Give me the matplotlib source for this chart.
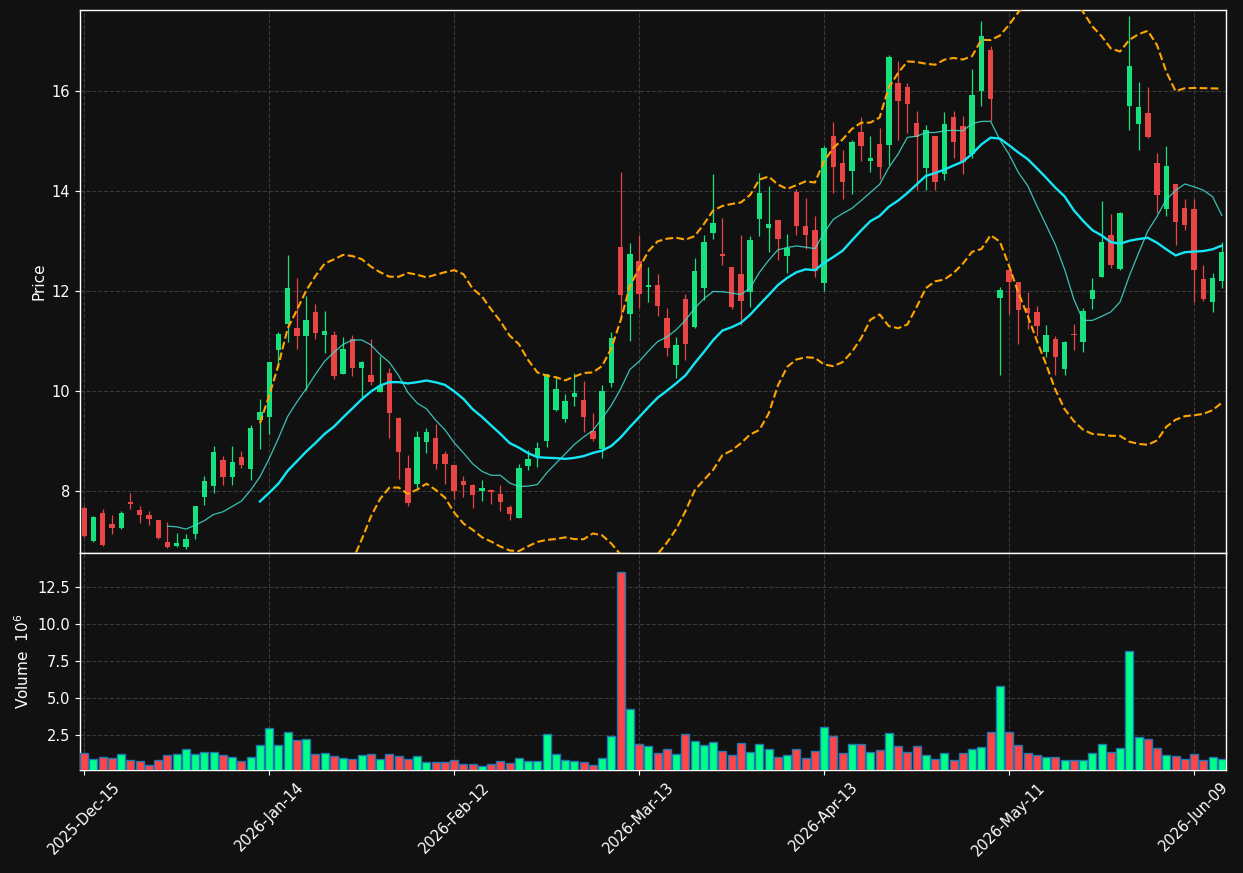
import numpy as np
import pandas as pd
import matplotlib
matplotlib.use("Agg")
import matplotlib.pyplot as plt

# ---------------- data ----------------
start_date = "2025-12-15"
holidays = ["2025-12-25", "2026-01-01", "2026-01-19", "2026-02-16", "2026-04-03", "2026-05-25"]

opens = [7.67, 7.01, 7.57, 7.34, 7.27, 7.78, 7.62, 7.52, 7.42, 7.00,
         6.92, 6.90, 7.16, 7.88, 8.10, 8.62, 8.28, 8.68, 8.44, 9.42,
         9.49, 10.82, 11.34, 11.26, 11.10, 11.58, 11.12, 11.12, 10.34, 11.04,
         10.46, 10.32, 9.98, 10.36, 9.46, 8.46, 8.15, 8.98, 9.06, 8.74,
         8.52, 8.21, 8.12, 8.00, 8.02, 7.94, 7.68, 7.46, 8.50, 8.70,
         9.00, 9.62, 9.44, 9.88, 9.82, 9.20, 8.84, 10.16, 12.88, 11.54,
         12.60, 12.08, 12.12, 11.46, 10.52, 11.84, 11.28, 12.06, 13.16, 12.74,
         12.48, 12.34, 11.98, 13.44, 13.26, 13.42, 12.70, 13.98, 13.30, 13.22,
         12.16, 15.10, 14.56, 14.40, 15.18, 14.61, 14.94, 14.92, 16.16, 16.08,
         15.36, 14.46, 15.10, 14.34, 15.48, 15.30, 14.74, 16.00, 16.82, 11.86,
         12.42, 12.18, 11.66, 11.58, 10.78, 11.04, 10.44, 11.14, 10.98, 11.84,
         12.28, 13.12, 12.44, 15.70, 15.34, 15.56, 14.56, 13.64, 14.14, 13.66,
         13.64, 12.24, 11.78, 12.20]
highs = [7.70, 7.50, 7.65, 7.52, 7.60, 7.97, 7.70, 7.60, 7.42, 7.38,
         7.17, 7.15, 7.70, 8.30, 8.90, 8.70, 8.90, 8.80, 9.32, 9.84,
         10.58, 11.19, 12.72, 12.27, 11.91, 11.75, 11.60, 11.20, 11.09, 11.12,
         10.60, 11.05, 10.70, 10.47, 9.49, 8.73, 9.21, 9.26, 9.34, 8.80,
         8.52, 8.31, 8.15, 8.22, 8.05, 8.13, 7.72, 8.54, 8.82, 8.99,
         10.34, 10.28, 9.94, 10.36, 10.20, 9.56, 10.12, 11.18, 14.39, 12.96,
         13.12, 12.49, 12.35, 11.66, 11.08, 11.94, 12.66, 13.12, 14.34, 13.46,
         12.48, 13.12, 13.10, 14.36, 14.10, 13.42, 13.14, 14.04, 13.86, 13.50,
         14.90, 15.38, 14.82, 15.02, 15.48, 15.10, 15.26, 16.72, 16.60, 16.16,
         15.60, 15.32, 15.10, 15.58, 15.60, 15.50, 16.44, 17.40, 16.90, 12.08,
         12.42, 12.18, 11.98, 11.70, 11.32, 11.10, 11.00, 11.34, 11.66, 12.26,
         13.80, 13.54, 13.58, 17.50, 16.18, 16.08, 14.76, 14.90, 14.14, 13.84,
         13.84, 12.52, 12.36, 12.98]
lows = [7.09, 7.00, 6.91, 7.15, 7.26, 7.65, 7.37, 7.32, 7.06, 6.87,
        6.90, 6.85, 7.05, 7.73, 7.97, 8.13, 8.13, 8.47, 8.23, 8.85,
        9.14, 10.49, 10.99, 10.85, 10.02, 11.04, 10.77, 10.25, 10.34, 10.31,
        9.89, 10.12, 9.98, 9.07, 8.24, 7.71, 8.07, 8.77, 8.45, 8.15,
        7.85, 7.89, 7.67, 7.81, 7.75, 7.61, 7.42, 7.46, 8.42, 8.49,
        8.88, 9.60, 9.38, 9.70, 9.18, 9.00, 8.66, 10.08, 11.42, 11.01,
        11.66, 11.79, 11.50, 10.71, 10.27, 10.62, 11.26, 11.82, 13.04, 12.52,
        11.64, 11.32, 11.68, 13.10, 12.78, 12.62, 12.36, 13.12, 12.84, 12.28,
        12.00, 13.96, 13.84, 13.94, 14.60, 14.38, 14.24, 14.52, 15.02, 15.16,
        14.02, 14.02, 14.02, 14.22, 14.66, 14.34, 14.66, 15.70, 15.40, 10.32,
        11.54, 10.95, 11.24, 11.10, 10.69, 10.32, 10.32, 10.82, 10.78, 11.64,
        12.28, 12.46, 12.42, 15.22, 14.82, 15.06, 13.56, 13.50, 12.92, 13.22,
        11.78, 11.80, 11.58, 12.06]
closes = [7.12, 7.49, 6.94, 7.27, 7.56, 7.75, 7.52, 7.44, 7.08, 6.90,
          6.97, 7.06, 7.70, 8.21, 8.78, 8.28, 8.58, 8.52, 9.26, 9.58,
          10.58, 11.15, 12.06, 11.10, 11.42, 11.16, 11.20, 10.30, 10.84, 10.46,
          10.58, 10.18, 10.10, 9.56, 8.78, 7.77, 9.08, 9.18, 8.55, 8.55,
          8.01, 8.13, 7.92, 8.06, 7.98, 7.78, 7.54, 8.46, 8.64, 8.86,
          10.34, 10.04, 9.80, 9.96, 9.48, 9.04, 10.00, 11.06, 11.92, 12.74,
          11.94, 12.12, 11.70, 10.86, 10.92, 10.94, 12.40, 12.98, 13.36, 12.70,
          11.68, 11.80, 13.02, 13.96, 13.34, 13.04, 12.86, 13.30, 13.12, 12.40,
          14.86, 14.48, 14.18, 14.98, 14.90, 14.66, 14.48, 16.68, 15.80, 15.74,
          15.08, 15.22, 14.18, 15.34, 14.98, 14.58, 15.92, 17.10, 15.84, 12.02,
          12.18, 11.62, 11.56, 11.30, 11.12, 10.68, 10.98, 11.12, 11.60, 12.02,
          12.98, 12.52, 13.56, 16.50, 15.68, 15.08, 13.92, 14.50, 13.38, 13.32,
          12.42, 11.84, 12.26, 12.78]
volume_millions = [1.28, 0.85, 1.01, 0.94, 1.21, 0.80, 0.74, 0.46, 0.80, 1.14,
                   1.21, 1.55, 1.21, 1.35, 1.35, 1.14, 1.01, 0.74, 1.01, 1.82,
                   2.97, 1.82, 2.70, 2.16, 2.23, 1.21, 1.28, 1.07, 0.94, 0.87,
                   1.14, 1.21, 0.85, 1.21, 1.07, 0.87, 1.07, 0.67, 0.67, 0.67,
                   0.80, 0.53, 0.53, 0.40, 0.53, 0.74, 0.60, 0.94, 0.74, 0.74,
                   2.57, 1.21, 0.80, 0.74, 0.67, 0.46, 0.94, 2.43, 13.49, 4.26,
                   1.89, 1.75, 1.28, 1.55, 1.21, 2.57, 2.09, 1.82, 2.02, 1.41,
                   1.14, 1.95, 1.35, 1.89, 1.55, 1.01, 1.14, 1.55, 0.94, 1.41,
                   3.04, 2.43, 1.28, 1.89, 1.89, 1.35, 1.48, 2.64, 1.75, 1.35,
                   1.75, 1.14, 0.87, 1.28, 0.80, 1.28, 1.55, 1.69, 2.70, 5.83,
                   2.70, 1.82, 1.28, 1.14, 1.01, 1.01, 0.80, 0.80, 0.80, 1.28,
                   1.89, 1.35, 1.62, 8.20, 2.36, 2.23, 1.62, 1.14, 1.07, 0.87,
                   1.21, 0.80, 1.01, 0.87]

mav_short, mav_long = 10, 20
bb_window, bb_k = 20, 2

# ---------------- derived ----------------
n = len(opens)
dates = pd.bdate_range(start=start_date, periods=n, freq="C", holidays=holidays)
df = pd.DataFrame({"Open": opens, "High": highs, "Low": lows,
                   "Close": closes, "Volume": volume_millions}, index=dates)
x = np.arange(n)
up = df["Close"].values >= df["Open"].values

ma_s = df["Close"].rolling(mav_short).mean()
ma_l = df["Close"].rolling(mav_long).mean()
bb_mid = df["Close"].rolling(bb_window).mean()
bb_std = df["Close"].rolling(bb_window).std(ddof=0)
bb_up = bb_mid + bb_k * bb_std
bb_lo = bb_mid - bb_k * bb_std

# ---------------- style ----------------
BG = "#111111"
GRID = "#3a3a3a"
C_UP, C_DN = "#17e07f", "#e84545"
V_UP, V_DN = "#00ff88", "#ff4545"
V_EDGE = "#1f77b4"

fig = plt.figure(figsize=(12.43, 8.73), dpi=100, facecolor=BG)
ax = fig.add_axes([0.0644, 0.3671, 0.9219, 0.6214], facecolor=BG)
axv = fig.add_axes([0.0644, 0.118, 0.9219, 0.2486], facecolor=BG, sharex=ax)

for a in (ax, axv):
    for s in a.spines.values():
        s.set_color("white")
        s.set_linewidth(1.0)
    a.grid(True, color=GRID, linestyle="--", linewidth=0.8)
    a.set_axisbelow(True)
    a.tick_params(colors="white", labelsize=10.5)

# candles
colors = np.where(up, C_UP, C_DN)
ax.vlines(x, df["Low"], df["High"], colors=colors, linewidth=0.9, zorder=2)
body_bottom = np.minimum(df["Open"], df["Close"])
body_h = np.maximum(np.abs(df["Close"] - df["Open"]), 0.02)
ax.bar(x, body_h, bottom=body_bottom, width=0.58, color=colors, linewidth=0, zorder=3)

# moving averages and bands
ax.plot(x, ma_s, color="#40e0d0", linewidth=0.9, alpha=0.85, zorder=4)
ax.plot(x, ma_l, color="#14e6f5", linewidth=1.7, zorder=4)
ax.plot(x, bb_up, color="#ffa500", linewidth=1.5, linestyle="--", zorder=4)
ax.plot(x, bb_lo, color="#ffa500", linewidth=1.5, linestyle="--", zorder=4)

ax.set_ylim(6.78, 17.62)
ax.set_yticks([8, 10, 12, 14, 16])
ax.set_ylabel("Price", color="white", fontsize=11)
ax.tick_params(axis="x", labelbottom=False, length=0)

# volume
vcolors = np.where(up, V_UP, V_DN)
axv.bar(x, df["Volume"], width=0.86, color=vcolors, edgecolor=V_EDGE, linewidth=1.0, zorder=3)
axv.set_ylim(0.14, 14.8)
axv.set_yticks([2.5, 5.0, 7.5, 10.0, 12.5])
axv.set_ylabel("Volume  $10^6$", color="white", fontsize=11)

tick_idx = list(range(0, n, 20))
axv.set_xticks(tick_idx)
axv.set_xticklabels([dates[i].strftime("%Y-%b-%d") for i in tick_idx], rotation=45, fontsize=10.5)
axv.set_xlim(-0.45, 123.45)

fig.savefig("out.png", dpi=100, facecolor=BG)
